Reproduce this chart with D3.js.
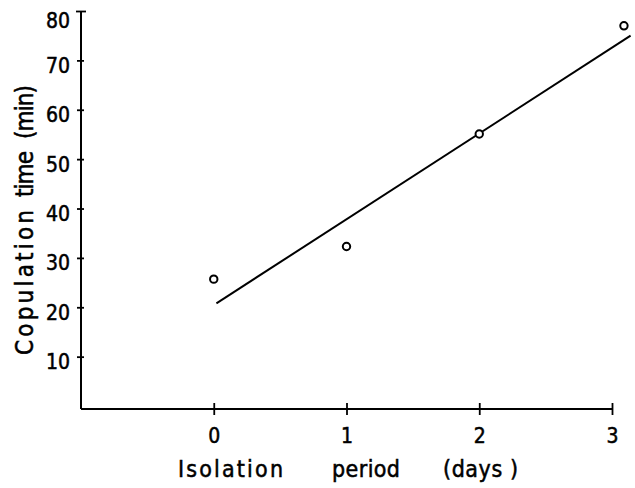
<!DOCTYPE html>
<html>
<head>
<meta charset="utf-8">
<script src="https://cdn.jsdelivr.net/npm/d3@7"></script>
<style>
  html, body { margin: 0; padding: 0; background: #fff; }
  svg { display: block; }
  text { font-family: "DejaVu Sans Condensed", "DejaVu Sans", sans-serif; font-stretch: condensed; fill: #000; stroke: #000; stroke-width: 0.5px; }
</style>
</head>
<body>
<svg id="chart" width="635" height="488"></svg>
<script>
// ---- data ----
const days = [0, 1, 2, 3.09];                     // isolation period (days)
const copulationTime = [25.7, 32.3, 55.1, 77.0];  // copulation time (min)
const fitDays = [0.02, 3.14];                     // fitted regression line ends
const fitTime = [20.8, 75.0];
const xTickValues = [0, 1, 2, 3];
const yTickValues = [10, 20, 30, 40, 50, 60, 70, 80];
const xTitleWords = ["Isolation", "period", "(days )"];
const yTitleWords = ["Copulation", "time", "(min)"];

const svg = d3.select("#chart");
const FONT = "'DejaVu Sans Condensed', 'DejaVu Sans', sans-serif";

const x = d3.scaleLinear().domain([-1, 3]).range([81, 612]);
const y = d3.scaleLinear().domain([-0.6, 80]).range([409, 11]);

// ---- Y axis ----
const yAxis = d3.axisLeft(y).tickValues(yTickValues).tickSize(0).tickPadding(11).tickFormat(d3.format("d"));
const gy = svg.append("g").attr("transform", `translate(${x(-1)},0)`).call(yAxis);
gy.select(".domain").remove();
gy.selectAll(".tick line")
  .attr("x1", d => d === 80 ? -5 : -4)
  .attr("x2", d => d === 80 ? 5 : 3)
  .attr("stroke", "#000").attr("stroke-width", 1.8);
gy.selectAll(".tick text")
  .style("font-family", FONT)
  .style("font-size", "21px")
  .attr("dy", d => d === 80 ? 16 : 12);
gy.append("line")
  .attr("x1", 0).attr("x2", 0)
  .attr("y1", y(80)).attr("y2", y(-0.6))
  .attr("stroke", "#000").attr("stroke-width", 2);

// ---- X axis ----
const xAxis = d3.axisBottom(x).tickValues(xTickValues).tickSize(0).tickPadding(0).tickFormat(d3.format("d"));
const gx = svg.append("g").attr("transform", `translate(0,${y(-0.6)})`).call(xAxis);
gx.select(".domain").remove();
gx.selectAll(".tick line")
  .attr("y1", -6).attr("y2", 6)
  .attr("stroke", "#000").attr("stroke-width", 1.8);
gx.selectAll(".tick text")
  .style("font-family", FONT)
  .style("font-size", "21px")
  .attr("y", 0)
  .attr("dy", 34);
gx.append("line")
  .attr("x1", x(-1)).attr("x2", x(3))
  .attr("y1", 0).attr("y2", 0)
  .attr("stroke", "#000").attr("stroke-width", 2);

// ---- fitted line ----
const line = d3.line().x(d => x(d[0])).y(d => y(d[1]));
svg.append("path")
  .datum(d3.zip(fitDays, fitTime))
  .attr("d", line)
  .attr("fill", "none")
  .attr("stroke", "#000")
  .attr("stroke-width", 2);

// ---- data points ----
svg.selectAll("circle.pt")
  .data(d3.zip(days, copulationTime))
  .join("circle")
  .attr("class", "pt")
  .attr("cx", d => x(d[0]))
  .attr("cy", d => y(d[1]))
  .attr("r", 3.7)
  .attr("fill", "#fff")
  .attr("stroke", "#000")
  .attr("stroke-width", 2);

// ---- axis titles (hand-lettered: each word placed separately) ----
const xWordStart = [178, 332, 443];
const xWordLen = [105, 68, 75];
svg.selectAll("text.xtitle")
  .data(xTitleWords)
  .join("text")
  .attr("class", "xtitle")
  .attr("x", (d, i) => xWordStart[i])
  .attr("y", 477)
  .attr("textLength", (d, i) => xWordLen[i])
  .attr("lengthAdjust", "spacing")
  .attr("xml:space", "preserve")
  .style("font-size", "23px")
  .text(d => d);

const yWordStart = [355, 197, 139];   // bottom end of each rotated word
const yWordLen = [145, 46, 54];
svg.selectAll("text.ytitle")
  .data(yTitleWords)
  .join("text")
  .attr("class", "ytitle")
  .attr("transform", (d, i) => `translate(33,${yWordStart[i]}) rotate(-90)`)
  .attr("textLength", (d, i) => yWordLen[i])
  .attr("lengthAdjust", "spacing")
  .style("font-size", "24px")
  .text(d => d);
</script>
</body>
</html>
